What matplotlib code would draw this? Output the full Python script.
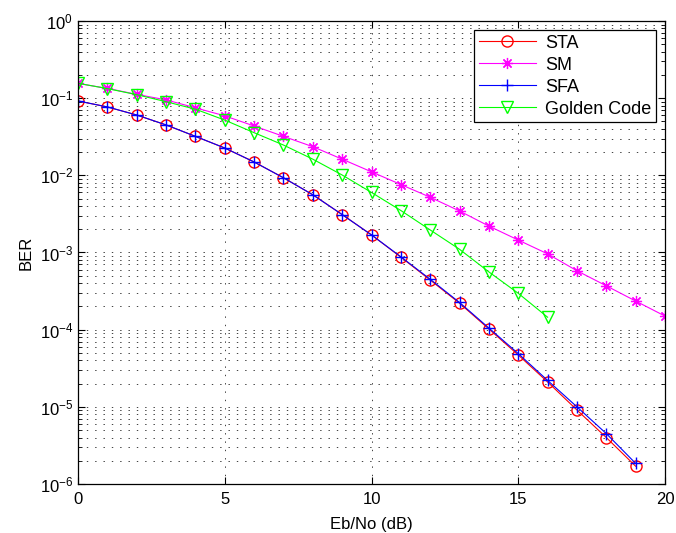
import numpy as np
import matplotlib.pyplot as plt
from matplotlib.ticker import NullFormatter

plt.rcParams['font.family'] = ['Liberation Sans', 'DejaVu Sans']
plt.rcParams['lines.scale_dashes'] = False

# valeurs
snr = np.arange(0, 21)
ber_sta = [0.092, 0.077, 0.0605, 0.045, 0.032, 0.0226, 0.0149, 0.0093, 0.0056, 0.0031,
           0.00169, 0.00087, 0.00044, 0.00022, 0.000102, 4.7e-5, 2.1e-5, 9.1e-6, 4.0e-6, 1.7e-6]
ber_sfa = [0.092, 0.077, 0.0605, 0.045, 0.032, 0.0226, 0.0149, 0.0093, 0.0056, 0.0031,
           0.00169, 0.00088, 0.00045, 0.000225, 0.000105, 4.9e-5, 2.2e-5, 1.0e-5, 4.5e-6, 1.85e-6]
ber_sm = [0.155, 0.134, 0.112, 0.095, 0.075, 0.059, 0.0436, 0.032, 0.0235, 0.0162,
          0.0111, 0.0076, 0.0052, 0.00345, 0.0022, 0.00145, 0.00096, 0.00058, 0.00037,
          0.000235, 0.00015]
ber_gc = [0.156, 0.133, 0.111, 0.090, 0.072, 0.052, 0.0357, 0.0247, 0.0162, 0.0101,
          0.0060, 0.0035, 0.00196, 0.0011, 0.00056, 0.000296, 0.000145]

fig = plt.figure(figsize=(6.76, 5.33), dpi=100)
ax = fig.add_axes([78/676, 1 - 484/533, (665 - 78)/676, (484 - 21)/533])

ms = 8
lw = 0.8
ast = (8, 2, 0)  # asterisque facon matlab
ax.semilogy(snr[:len(ber_sta)], ber_sta, '-', color='#ff0000', marker='o', mfc='none',
            ms=ms, lw=lw, label='STA')
ax.semilogy(snr[:len(ber_sm)], ber_sm, '-', color='#ff00ff', marker=ast, mew=0.9,
            ms=ms, lw=lw, label='SM')
ax.semilogy(snr[:len(ber_sfa)], ber_sfa, '-', color='#0000ff', marker='+', mew=1.0,
            ms=ms + 1, lw=lw, label='SFA')
ax.semilogy(snr[:len(ber_gc)], ber_gc, '-', color='#00ff00', marker='v', mfc='none',
            ms=ms + 1, lw=lw, label='Golden Code')

ax.set_xlim(0, 20)
ax.set_ylim(1e-6, 1)
ax.set_xticks([0, 5, 10, 15, 20])
decades = 10.0 ** np.arange(-6, 1)
ax.set_yticks(decades)
ax.set_yticks([d * k for d in decades[:-1] for k in range(2, 10)], minor=True)
ax.yaxis.set_minor_formatter(NullFormatter())

grid_ls = (0, (1, 5))
ax.grid(True, which='major', ls=grid_ls, color='0.25', lw=0.7)
ax.grid(True, which='minor', axis='y', ls=grid_ls, color='0.25', lw=0.7)
ax.tick_params(which='both', direction='in', top=True, right=True, labelsize=12)
ax.tick_params(axis='x', pad=6)
ax.tick_params(which='major', length=5)
ax.tick_params(which='minor', length=3)
for s in ax.spines.values():
    s.set_linewidth(0.9)

ax.set_xlabel('Eb/No (dB)', fontsize=12, labelpad=7)
ax.set_ylabel('BER', fontsize=12, labelpad=4)

leg = ax.legend(loc='upper right', bbox_to_anchor=(656/665 - 0.0015, 1 - 9/463),
                fontsize=13, fancybox=False, framealpha=1, edgecolor='k',
                handlelength=3.2, handletextpad=0.5, borderpad=0.25, labelspacing=0.28,
                borderaxespad=0)
leg.get_frame().set_linewidth(0.9)

fig.savefig('out.png', dpi=100)
